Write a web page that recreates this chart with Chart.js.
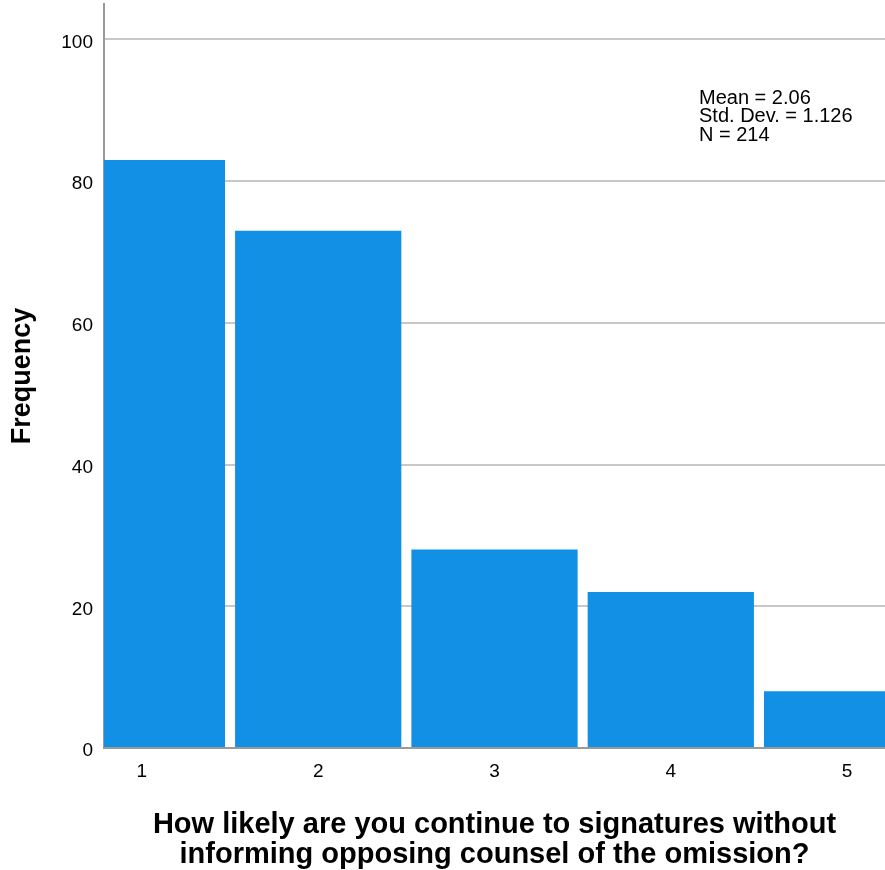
<!DOCTYPE html>
<html lang="en">
<head>
    <meta charset="UTF-8">
    <title>Histogram</title>
    <script src="https://cdn.jsdelivr.net/npm/chart.js"></script>
    <style>
        body { margin: 0; background: #fff; }
    </style>
</head>
<body>
    <canvas id="histChart" width="885" height="870"></canvas>
    <script>
        const categories = [1, 2, 3, 4, 5];
        const frequencies = [83, 73, 28, 22, 8];
        const yTicks = [0, 20, 40, 60, 80, 100];
        const statLines = ['Mean = 2.06', 'Std. Dev. = 1.126', 'N = 214'];
        const xTitle = ['How likely are you continue to signatures without', 'informing opposing counsel of the omission?'];

        const fontFamily = "Arial, 'Liberation Sans', sans-serif";

        // stats box in the top right corner
        const statsPlugin = {
            id: 'stats',
            afterDraw(chart) {
                const ctx = chart.ctx;
                ctx.save();
                ctx.font = '20px ' + fontFamily;
                ctx.fillStyle = '#000';
                ctx.textBaseline = 'middle';
                statLines.forEach((line, i) => {
                    ctx.fillText(line, 699, 98 + i * 18.5);
                });
                ctx.restore();
            }
        };

        const ctx = document.getElementById('histChart').getContext('2d');
        new Chart(ctx, {
            type: 'bar',
            data: {
                datasets: [{
                    data: categories.map((c, i) => ({ x: c, y: frequencies[i] })),
                    backgroundColor: '#1190e6',
                    borderWidth: 0,
                    barPercentage: 0.943,
                    categoryPercentage: 1,
                    clip: 0
                }]
            },
            options: {
                responsive: false,
                animation: false,
                layout: { padding: { top: 4, right: 0, left: 0, bottom: 0 } },
                plugins: {
                    legend: { display: false },
                    tooltip: { enabled: false }
                },
                scales: {
                    x: {
                        type: 'linear',
                        offset: false,
                        min: 0.785,
                        max: 5.215,
                        afterFit: s => { s.height = 122; s.paddingLeft = 0; s.paddingRight = 0; },
                        afterBuildTicks: s => { s.ticks = categories.map(v => ({ value: v })); },
                        grid: { display: false, drawTicks: false },
                        border: { display: true, color: '#9a9a9a', width: 2 },
                        ticks: {
                            color: '#000',
                            padding: 12,
                            font: { family: fontFamily, size: 19 }
                        },
                        title: {
                            display: true,
                            text: xTitle,
                            color: '#000',
                            padding: 0,
                            font: { family: fontFamily, size: 29, weight: 'bold', lineHeight: 30 / 29 }
                        }
                    },
                    y: {
                        min: 0,
                        max: 105,
                        afterFit: s => { s.width = 104; s.paddingTop = 0; s.paddingBottom = 0; },
                        afterBuildTicks: s => { s.ticks = yTicks.map(v => ({ value: v })); },
                        grid: { color: '#c8c8c8', lineWidth: 2, drawTicks: false },
                        border: { display: true, color: '#9a9a9a', width: 2 },
                        ticks: {
                            color: '#000',
                            padding: 11,
                            labelOffset: 3,
                            font: { family: fontFamily, size: 19 }
                        },
                        title: {
                            display: true,
                            text: 'Frequency',
                            color: '#000',
                            padding: { top: 6, bottom: 0 },
                            font: { family: fontFamily, size: 27, weight: 'bold', lineHeight: 1.2 }
                        }
                    }
                }
            },
            plugins: [statsPlugin]
        });
    </script>
</body>
</html>
